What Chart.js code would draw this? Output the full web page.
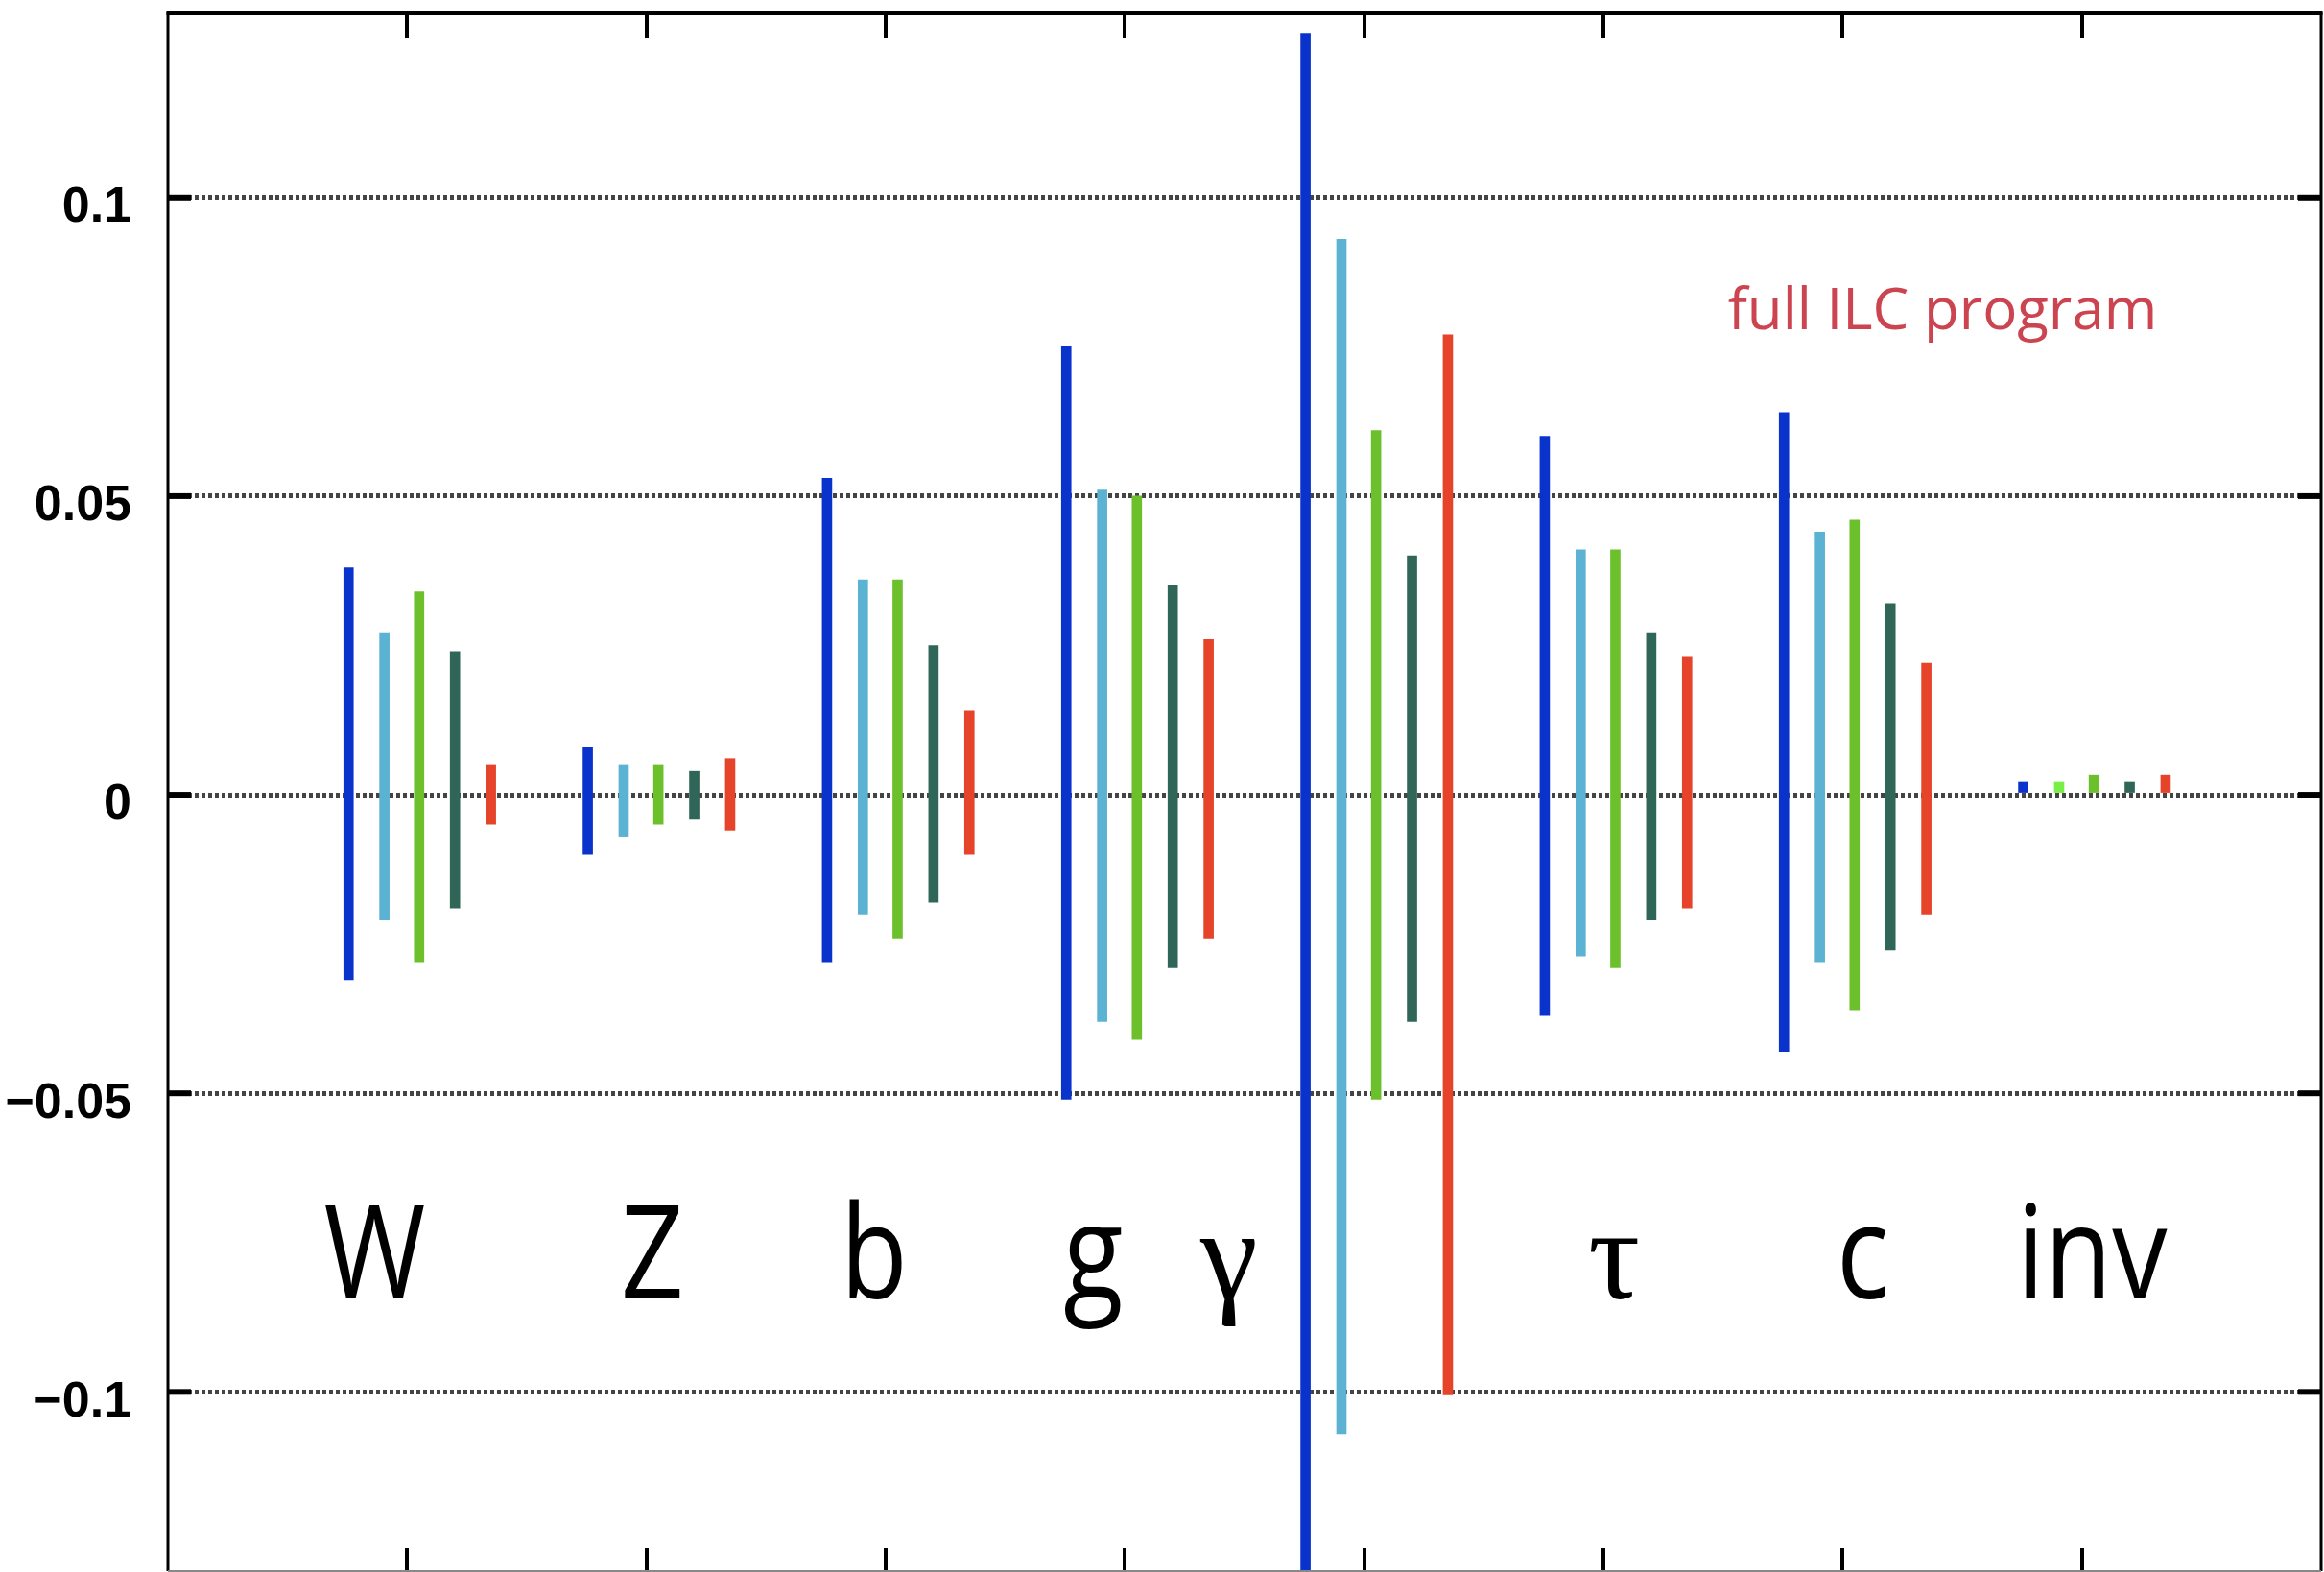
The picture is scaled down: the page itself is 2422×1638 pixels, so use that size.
<!DOCTYPE html>
<html>
<head>
<meta charset="utf-8">
<script src="https://cdn.jsdelivr.net/npm/chart.js@4"></script>
<style>
  html, body { margin: 0; padding: 0; background: #ffffff; }
  #wrap { width: 2422px; height: 1638px; }
</style>
</head>
<body>
<div id="wrap"><canvas id="chart" width="2422" height="1638"></canvas></div>
<script>
// Coupling channels
const channels = ['W', 'Z', 'b', 'g', 'γ', 'τ', 'c', 'inv'];

// Relative uncertainty bands [low, high] per channel, one array per stage
const stage1 = [[-0.031, 0.038], [-0.010, 0.008], [-0.028, 0.053], [-0.051, 0.075], [-0.135, 0.1275], [-0.037, 0.060], [-0.043, 0.064], [0, 0.0021]];
const stage2 = [[-0.021, 0.027], [-0.007, 0.005], [-0.020, 0.036], [-0.038, 0.051], [-0.107, 0.093], [-0.027, 0.041], [-0.028, 0.044], [0, 0.0021]];
const stage3 = [[-0.028, 0.034], [-0.005, 0.005], [-0.024, 0.036], [-0.041, 0.050], [-0.051, 0.061], [-0.029, 0.041], [-0.036, 0.046], [0, 0.0032]];
const stage4 = [[-0.019, 0.024], [-0.004, 0.004], [-0.018, 0.025], [-0.029, 0.035], [-0.038, 0.040], [-0.021, 0.027], [-0.026, 0.032], [0, 0.0021]];
const stage5 = [[-0.005, 0.005], [-0.006, 0.006], [-0.010, 0.014], [-0.024, 0.026], [-0.1005, 0.077], [-0.019, 0.023], [-0.020, 0.022], [0, 0.0032]];

// Y axis tick values and their printed labels
const yTickValues = [-0.1, -0.05, 0, 0.05, 0.1];
const yTickLabels = ['\u22120.1', '\u22120.05', '0', '0.05', '0.1'];

// Layout: channel slots on the x axis, bar offsets inside a slot, label anchors
const slotCentres = [1, 2, 3, 4, 5, 6, 7, 8];
const barOffsets = [-0.245, -0.095, 0.05, 0.2, 0.35];
const xTickValues = [1, 2, 3, 4, 5, 6, 7, 8];
const labelAnchors = [0.864, 2.025, 2.951, 3.868, 4.435, 6.045, 7.085, 8.042];
const labelBaseline = -0.0843;
const serifLabels = ['γ', 'τ'];
const noteText = 'full ILC program';
const noteAnchor = { x: 6.52, y: 0.078 };

const stages = [stage1, stage2, stage3, stage4, stage5];
const stageColours = ['#0a33cc', '#5cb2d2', '#6cc02c', '#2f6658', '#e5432a'];
const invSecondColour = '#78ee46';

const datasets = stages.map((stage, s) => ({
  label: 'stage ' + (s + 1),
  data: stage.map((band, i) => ({ x: slotCentres[i] + barOffsets[s], y: band })),
  backgroundColor: channels.map(c => (s === 1 && c === 'inv') ? invSecondColour : stageColours[s]),
  borderWidth: 0,
  barThickness: 10,
  grouped: false
}));

// Frame with inward tick marks on all four sides
const framePlugin = {
  id: 'frame',
  afterDraw(chart) {
    const { ctx, chartArea: a, scales: { x, y } } = chart;
    ctx.save();
    ctx.strokeStyle = '#000';
    ctx.lineCap = 'butt';
    const seg = (x1, y1, x2, y2, w) => {
      ctx.lineWidth = w;
      ctx.beginPath(); ctx.moveTo(x1, y1); ctx.lineTo(x2, y2); ctx.stroke();
    };
    xTickValues.forEach(v => {
      const px = Math.round(x.getPixelForValue(v));
      seg(px, a.top, px, a.top + 24, 4);
      seg(px, a.bottom, px, a.bottom - 24, 4);
    });
    y.ticks.forEach(t => {
      const py = y.getPixelForValue(t.value);
      seg(a.left, py, a.left + 24, py, 6);
      seg(a.right, py, a.right - 24, py, 6);
    });
    seg(a.left - 1.5, a.top - 2.5, a.right + 1.5, a.top - 2.5, 5);
    seg(a.left, a.top - 4, a.left, a.bottom, 3);
    seg(a.right, a.top - 4, a.right, a.bottom, 3);
    ctx.strokeStyle = '#888';
    seg(a.left, a.bottom, a.right, a.bottom, 2);
    ctx.restore();
  }
};

// Channel names and the programme note inside the plot
const labelPlugin = {
  id: 'channelLabels',
  afterDraw(chart) {
    const { ctx, scales: { x, y } } = chart;
    ctx.save();
    ctx.fillStyle = '#000';
    ctx.textAlign = 'center';
    ctx.textBaseline = 'alphabetic';
    const by = y.getPixelForValue(labelBaseline);
    channels.forEach((name, i) => {
      const cx = x.getPixelForValue(labelAnchors[i]);
      ctx.save();
      ctx.translate(cx, by);
      if (serifLabels.includes(name)) {
        ctx.font = '135px "Liberation Serif", "DejaVu Serif", serif';
      } else {
        ctx.font = '135px "Open Sans", "Noto Sans", sans-serif';
        ctx.scale(0.85, 1);
      }
      ctx.fillText(name, 0, 0);
      ctx.restore();
    });
    ctx.fillStyle = '#cc4450';
    ctx.textAlign = 'left';
    ctx.font = '60px "Open Sans", "Noto Sans", sans-serif';
    ctx.fillText(noteText, x.getPixelForValue(noteAnchor.x), y.getPixelForValue(noteAnchor.y));
    ctx.restore();
  }
};

new Chart(document.getElementById('chart'), {
  type: 'bar',
  data: { datasets },
  options: {
    responsive: false,
    devicePixelRatio: 1,
    animation: false,
    layout: { autoPadding: false, padding: { top: 16, right: 3, bottom: 1, left: 0 } },
    plugins: { legend: { display: false }, tooltip: { enabled: false } },
    scales: {
      x: {
        type: 'linear',
        min: 0,
        max: 9,
        offset: false,
        display: false
      },
      y: {
        type: 'linear',
        min: -0.13,
        max: 0.1305,
        z: 1,
        afterFit(scale) {
          scale.width = 175;
          scale.paddingTop = 0;
          scale.paddingBottom = 0;
        },
        border: { display: false, dash: [4, 3] },
        grid: { color: '#444444', lineWidth: 5, drawTicks: false },
        ticks: {
          stepSize: 0.05,
          includeBounds: false,
          padding: 38,
          labelOffset: 11,
          color: '#000',
          font: { family: '"Liberation Sans", Arial, sans-serif', size: 52, weight: 'bold' },
          callback(value) {
            const k = yTickValues.findIndex(v => Math.abs(v - value) < 1e-9);
            return k >= 0 ? yTickLabels[k] : '';
          }
        }
      }
    }
  },
  plugins: [framePlugin, labelPlugin]
});
</script>
</body>
</html>
